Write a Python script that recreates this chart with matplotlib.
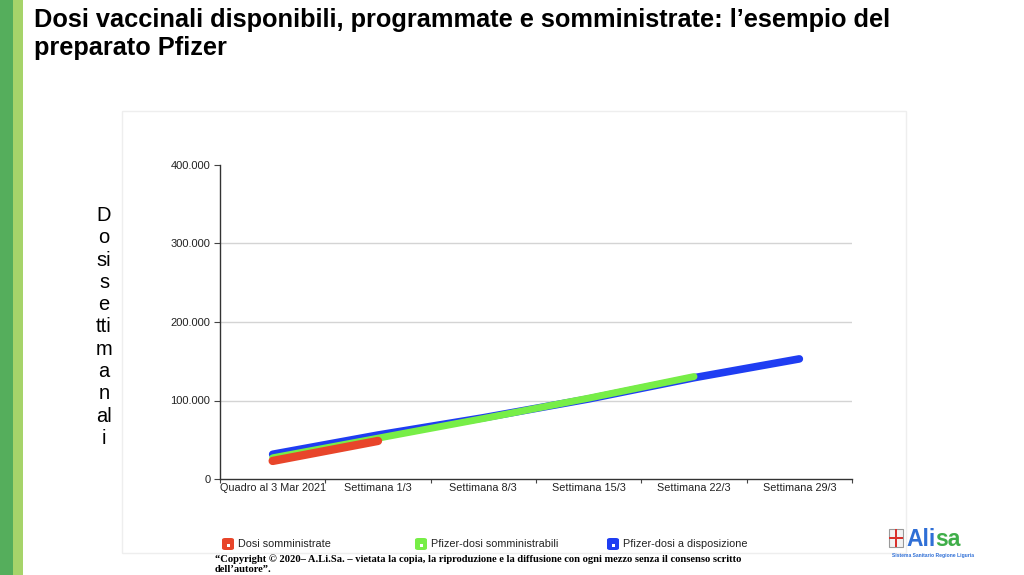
import numpy as np
import matplotlib.pyplot as plt
from matplotlib.patches import Rectangle, FancyBboxPatch

# categories on the x axis
weeks = ['Quadro al 3 Mar 2021', 'Settimana 1/3', 'Settimana 8/3',
         'Settimana 15/3', 'Settimana 22/3', 'Settimana 29/3']

# values (doses)
dosi_somministrate = [23000, 48500]
pfizer_somministrabili = [27000, 52000, 77000, 103000, 130500]
pfizer_disposizione = [31500, 56000, 78000, 102000, 129000, 153000]

y_ticks = [0, 100000, 200000, 300000, 400000]
y_labels = ['0', '100.000', '200.000', '300.000', '400.000']

series_names = ['Dosi somministrate', 'Pfizer-dosi somministrabili', 'Pfizer-dosi a disposizione']
red, green, blue = '#E8452A', '#77EE47', '#1F3DF2'

plt.rcParams['font.family'] = ['Liberation Sans', 'DejaVu Sans']

fig = plt.figure(figsize=(10.24, 5.75), dpi=100)
W, H = 1024, 575

def fx(px):
    return px / W

def fy(py):
    return 1 - py / H

# green stripes at the left edge of the slide
fig.add_artist(Rectangle((0, 0), fx(13), 1, transform=fig.transFigure, color='#55AE5C', lw=0))
fig.add_artist(Rectangle((fx(13), 0), fx(9.5), 1, transform=fig.transFigure, color='#A6D46A', lw=0))

# title
fig.text(fx(34), fy(27), 'Dosi vaccinali disponibili, programmate e somministrate: l\u2019esempio del',
         fontsize=18.3, fontweight='bold', ha='left', va='baseline')
fig.text(fx(34), fy(55), 'preparato Pfizer', fontsize=18.3, fontweight='bold', ha='left', va='baseline')

# light frame around the chart
fig.add_artist(Rectangle((fx(122), fy(553)), fx(906 - 122), (553 - 111) / H,
                         transform=fig.transFigure, fill=False, ec='#EEEEEE', lw=1))

ax = fig.add_axes([fx(220), fy(479), fx(852 - 220), (479 - 165) / H])
x = np.arange(len(weeks))

ax.plot(x[:len(pfizer_disposizione)], pfizer_disposizione, color=blue, lw=5.5, solid_capstyle='round', zorder=3)
ax.plot(x[:len(pfizer_somministrabili)], pfizer_somministrabili, color=green, lw=5, solid_capstyle='round', zorder=4)
ax.plot(x[:len(dosi_somministrate)], dosi_somministrate, color=red, lw=6, solid_capstyle='round', zorder=5)

ax.set_xlim(-0.5, len(weeks) - 0.5)
ax.set_ylim(0, 400000)
ax.set_yticks(y_ticks)
ax.set_yticklabels(y_labels, fontsize=8, color='#222222')
for yv in y_ticks[1:-1]:
    ax.axhline(yv, color='#D4D4D4', lw=1, zorder=1)

ax.set_xticks(np.arange(-0.5, len(weeks)), labels=[''] * (len(weeks) + 1))
ax.set_xticks(x, minor=True)
ax.set_xticklabels(weeks, minor=True, fontsize=7.8, color='#222222')
ax.tick_params(axis='x', which='major', length=3, color='#444444', direction='out')
ax.tick_params(axis='x', which='minor', length=0, pad=3)
ax.tick_params(axis='y', length=4, color='#444444', pad=3)

for s in ['top', 'right']:
    ax.spines[s].set_visible(False)
for s in ['left', 'bottom']:
    ax.spines[s].set_color('#333333')
    ax.spines[s].set_linewidth(1)

# vertical, broken-up axis title
parts = ['D', 'o', 'si', 's', 'e', 'tti', 'm', 'a', 'n', 'al', 'i']
fig.text(fx(104), fy(327), '\n'.join(parts), fontsize=14.5, ha='center', va='center',
         linespacing=1.22, multialignment='center')

# legend
legend_x = [222, 415, 607]
for lx, name, c in zip(legend_x, series_names, [red, green, blue]):
    fig.add_artist(FancyBboxPatch((fx(lx), fy(550)), fx(12), 12 / H,
                                  boxstyle='round,pad=0,rounding_size=0.003',
                                  transform=fig.transFigure, fc=c, ec='none'))
    fig.add_artist(Rectangle((fx(lx + 4.5), fy(546.5)), fx(3), 3 / H,
                             transform=fig.transFigure, fc='white', ec='none'))
    fig.text(fx(lx + 16), fy(544), name, fontsize=7.8, ha='left', va='center', color='#222222')

# copyright note
fig.text(fx(215), fy(559), '\u201cCopyright \u00a9 2020\u2013 A.Li.Sa. \u2013 vietata la copia, la riproduzione e la diffusione '
         'con ogni mezzo senza il consenso scritto', fontsize=7.6, fontweight='bold',
         family=['Liberation Serif', 'DejaVu Serif'], ha='left', va='center')
fig.text(fx(215), fy(569), 'dell\u2019autore\u201d.', fontsize=7.6, fontweight='bold',
         family=['Liberation Serif', 'DejaVu Serif'], ha='left', va='center')

# logo
fig.add_artist(Rectangle((fx(889), fy(547)), fx(14), 18 / H, transform=fig.transFigure,
                         fc='#F2F2F2', ec='#999999', lw=0.8))
fig.add_artist(Rectangle((fx(895.4), fy(547)), fx(1.2), 18 / H, transform=fig.transFigure,
                         fc='#D9302C', ec='none'))
fig.add_artist(Rectangle((fx(889), fy(538.5)), fx(14), 1.2 / H, transform=fig.transFigure,
                         fc='#D9302C', ec='none'))
ali = fig.text(fx(906), fy(546), 'Ali', fontsize=16.5, fontweight='bold', color='#2F6FD6',
               ha='left', va='baseline')
fig.canvas.draw()
bb = ali.get_window_extent(renderer=fig.canvas.get_renderer())
fig.text(bb.x1 / W - fx(0.5), fy(546), 'sa', fontsize=16.5, fontweight='bold', color='#3FAE49',
         ha='left', va='baseline')
fig.text(fx(933), fy(556), 'Sistema Sanitario Regione Liguria', fontsize=3.6, fontweight='bold',
         color='#2F6FD6', ha='center', va='center')

fig.savefig('out.png', dpi=100)
